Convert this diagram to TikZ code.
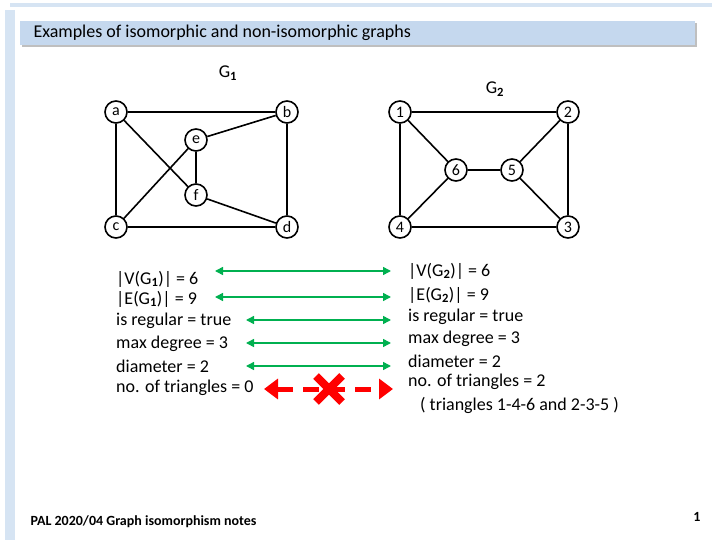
\documentclass[tikz,border=0pt]{standalone}
\usepackage{fontspec}
\setmainfont{Carlito}
\usetikzlibrary{shadows,arrows.meta}
\definecolor{lb}{HTML}{C5D8EE}
\definecolor{gr}{HTML}{00B050}
\begin{document}
\begin{tikzpicture}[x=1pt,y=-1pt,
 v/.style={circle,draw,line width=1.6pt,fill=white,minimum size=22pt,inner sep=0pt,font=\fontsize{16}{16}\selectfont},
 e/.style={line width=1.6pt},
 txt/.style={anchor=west,inner sep=0pt,font=\fontsize{18}{20}\selectfont},
 ga/.style={gr,line width=1.5pt,{Triangle[length=8pt,width=8pt]}-{Triangle[length=8pt,width=8pt]}}]
\useasboundingbox (0,0) rectangle (720,540);
\fill[lb!70] (10,3) rectangle (712,7);
\fill[lb!70] (5,10) rectangle (15,540);
\node[fill=lb,drop shadow={shadow xshift=2pt,shadow yshift=-2pt},minimum width=675pt,minimum height=24pt,anchor=north west,inner sep=0pt] (title) at (20,21) {};
\node[anchor=west,font=\fontsize{18}{20}\selectfont] (tt) at (30,33) {Examples of isomorphic and non-isomorphic graphs};
\node (g1) at (228,73) {\fontsize{18}{20}\selectfont G\textsubscript{\textbf{1}}};
\node (g2) at (495,89) {\fontsize{18}{20}\selectfont G\textsubscript{\textbf{2}}};
\node[v] (a) at (116,112) {a};
\node[v] (b) at (287,112) {b};
\node[v] (ee) at (196,140) {e};
\node[v] (f) at (196,195) {f};
\node[v] (c) at (116,227) {c};
\node[v] (d) at (287,227) {d};
\draw[e] (a)--(b) (a)--(c) (a)--(f) (b)--(ee) (b)--(d) (ee)--(c) (ee)--(f) (f)--(d) (c)--(d);
\node[v] (n1) at (400,112) {1};
\node[v] (n2) at (568,112) {2};
\node[v] (n6) at (456,170) {6};
\node[v] (n5) at (512,170) {5};
\node[v] (n4) at (400,227) {4};
\node[v] (n3) at (568,227) {3};
\draw[e] (n1)--(n2) (n1)--(n4) (n1)--(n6) (n2)--(n5) (n2)--(n3) (n6)--(n5) (n6)--(n4) (n5)--(n3) (n4)--(n3);
\node[txt] (l1) at (116,279) {|V(G\textsubscript{\textbf{1}})| = 6};
\node[txt] (l2) at (116,299) {|E(G\textsubscript{\textbf{1}})| = 9};
\node[txt] (l3) at (116,321) {is regular = true};
\node[txt] (l4) at (116,344) {max degree = 3};
\node[txt] (l5) at (116,366) {diameter = 2};
\node[txt] (l6) at (116,388) {no. of triangles = 0};
\node[txt] (r1) at (408,271) {|V(G\textsubscript{\textbf{2}})| = 6};
\node[txt] (r2) at (408,295) {|E(G\textsubscript{\textbf{2}})| = 9};
\node[txt] (r3) at (408,317) {is regular = true};
\node[txt] (r4) at (408,339) {max degree = 3};
\node[txt] (r5) at (408,361) {diameter = 2};
\node[txt] (r6) at (408,382) {no. of triangles = 2};
\node[txt] (r7) at (420,405) {( triangles 1-4-6 and  2-3-5 )};
\coordinate (a1) at (215,271); \coordinate (b1) at (391,271);
\coordinate (a2) at (215,297); \coordinate (b2) at (391,297);
\coordinate (a3) at (246,320); \coordinate (b3) at (391,320);
\coordinate (a4) at (246,343); \coordinate (b4) at (391,343);
\coordinate (a5) at (246,366); \coordinate (b5) at (391,366);
\draw[ga] (a1)--(b1); \draw[ga] (a2)--(b2); \draw[ga] (a3)--(b3); \draw[ga] (a4)--(b4); \draw[ga] (a5)--(b5);
\coordinate (ra) at (264,389); \coordinate (rb) at (393,389);
\draw[red,line width=5pt,dash pattern=on 16pt off 10pt,{Triangle[length=14pt,width=20pt]}-{Triangle[length=14pt,width=20pt]}] (ra)--(rb);
\draw[red,line width=8pt] (316,376)--(342,402) (342,376)--(316,402);
\node[anchor=west,font=\fontsize{14}{16}\selectfont\bfseries] (foot) at (27,522) {PAL 2020/04 Graph isomorphism  notes};
\node[font=\fontsize{14}{16}\selectfont\bfseries] (pg) at (697,517) {1};
\end{tikzpicture}
\end{document}
